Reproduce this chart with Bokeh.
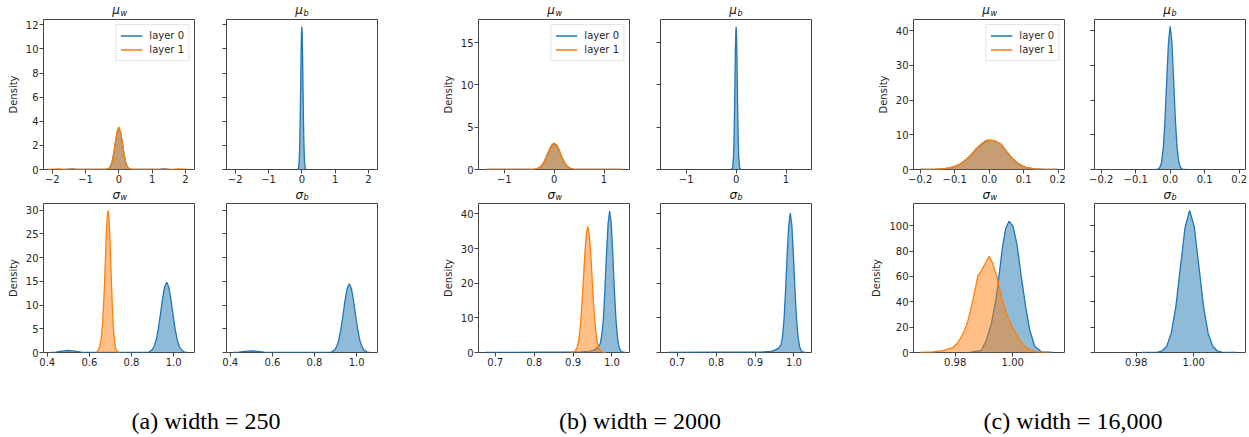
from bokeh.plotting import figure
from bokeh.models import (Range1d, FixedTicker, Legend, LegendItem,
                          CustomJSTickFormatter, ColumnDataSource)
from bokeh.layouts import row, column
from bokeh.core.properties import value
from bokeh.embed import file_html
from bokeh.resources import INLINE

BLUE = "#1f77b4"
ORANGE = "#ff7f0e"
FONT = "DejaVu Sans"

layer_labels = ["layer 0", "layer 1"]
top_titles = [("μ", "w"), ("μ", "b")] * 3
bottom_titles = [("σ", "w"), ("σ", "b")] * 3
captions = ["(a) width = 250", "(b) width = 2000", "(c) width = 16,000"]
density_label = "Density"

# ---------------- (a) width = 250 ----------------
a_top_xticks = [-2, -1, 0, 1, 2]
a_top_xlabels = ["−2", "−1", "0", "1", "2"]
a_top_yticks = [0, 2, 4, 6, 8, 10, 12]
a_top_ylabels = ["0", "2", "4", "6", "8", "10", "12"]
a_bot_xticks = [0.4, 0.6, 0.8, 1.0]
a_bot_xlabels = ["0.4", "0.6", "0.8", "1.0"]
a_bot_yticks = [0, 5, 10, 15, 20, 25, 30]
a_bot_ylabels = ["0", "5", "10", "15", "20", "25", "30"]

a_muw_l0_x = [-1.62, -1.5, -1.41, -1.3, -0.6, -0.4, -0.3, -0.25, -0.2, -0.15, -0.1, -0.05, 0.0,
              0.05, 0.1, 0.15, 0.2, 0.25, 0.3, 0.4, 0.6, 1.25, 1.35, 1.45, 1.58]
a_muw_l0_y = [0, 0.02, 0.05, 0.02, 0, 0.005, 0.08, 0.25, 0.65, 1.35, 2.28, 3.1, 3.45,
              3.1, 2.28, 1.35, 0.65, 0.25, 0.08, 0.005, 0, 0.02, 0.05, 0.02, 0]
a_muw_l1_x = [-2.12, -1.95, -1.82, -1.7, -1.0, -0.4, -0.3, -0.25, -0.2, -0.15, -0.1, -0.05, 0.0,
              0.05, 0.1, 0.15, 0.2, 0.25, 0.3, 0.4, 1.0, 1.68, 1.8, 1.93, 2.08]
a_muw_l1_y = [0, 0.03, 0.05, 0.02, 0, 0.005, 0.085, 0.26, 0.67, 1.38, 2.32, 3.16, 3.52,
              3.16, 2.32, 1.38, 0.67, 0.26, 0.085, 0.005, 0, 0.02, 0.05, 0.03, 0]
a_mub_l0_x = [-0.13, -0.12, -0.1, -0.08, -0.07, -0.06, -0.05, -0.04, -0.03, -0.02, -0.01, 0.0,
              0.01, 0.02, 0.03, 0.04, 0.05, 0.06, 0.07, 0.08, 0.1, 0.12, 0.13]
a_mub_l0_y = [0, 0.02, 0.15, 0.71, 1.37, 2.43, 3.93, 5.86, 7.97, 9.94, 11.34, 11.85,
              11.34, 9.94, 7.97, 5.86, 3.93, 2.43, 1.37, 0.71, 0.15, 0.02, 0]
a_sw_l0_x = [0.413, 0.44, 0.47, 0.50, 0.53, 0.56, 0.59, 0.85, 0.867, 0.882, 0.897, 0.907, 0.917,
             0.927, 0.937, 0.947, 0.957, 0.967, 0.977, 0.987, 0.997, 1.007, 1.017, 1.027, 1.037,
             1.052, 1.067]
a_sw_l0_y = [0, 0.08, 0.3, 0.42, 0.3, 0.08, 0, 0, 0.02, 0.1, 0.52, 1.26, 2.67,
             4.95, 8.0, 11.25, 13.8, 14.8, 13.8, 11.25, 8.0, 4.95, 2.67, 1.26, 0.52,
             0.1, 0]
a_sw_l1_x = [0.6335, 0.6445, 0.6525, 0.6585, 0.6635, 0.6685, 0.6725, 0.6765, 0.6805, 0.6845,
             0.6885, 0.6925, 0.6965, 0.7005, 0.7045, 0.7085, 0.7135, 0.7185, 0.7245, 0.7325, 0.7435]
a_sw_l1_y = [0, 0.7, 2.0, 3.8, 7.0, 11.2, 15.2, 20.2, 25.1, 28.6,
             29.9, 28.6, 25.1, 20.2, 14.8, 10.0, 5.4, 2.55, 0.86, 0.15, 0]
a_sb_l0_x = [0.413, 0.44, 0.47, 0.50, 0.53, 0.56, 0.59, 0.85, 0.865, 0.88, 0.895, 0.905, 0.915,
             0.925, 0.935, 0.945, 0.955, 0.965, 0.975, 0.985, 0.995, 1.005, 1.015, 1.025, 1.035,
             1.05, 1.065]
a_sb_l0_y = [0, 0.07, 0.25, 0.35, 0.25, 0.07, 0, 0, 0.02, 0.1, 0.5, 1.23, 2.6,
             4.85, 7.85, 11.0, 13.5, 14.5, 13.5, 11.0, 7.85, 4.85, 2.6, 1.23, 0.5,
             0.1, 0]

# ---------------- (b) width = 2000 ----------------
b_top_xticks = [-1, 0, 1]
b_top_xlabels = ["−1", "0", "1"]
b_top_yticks = [0, 5, 10, 15]
b_top_ylabels = ["0", "5", "10", "15"]
b_bot_xticks = [0.7, 0.8, 0.9, 1.0]
b_bot_xlabels = ["0.7", "0.8", "0.9", "1.0"]
b_bot_yticks = [0, 10, 20, 30, 40]
b_bot_ylabels = ["0", "10", "20", "30", "40"]

b_muw_x = [-1.35, -1.0, -0.6, -0.5, -0.4, -0.3, -0.25, -0.2, -0.15, -0.1, -0.05, 0.0,
           0.05, 0.1, 0.15, 0.2, 0.25, 0.3, 0.4, 0.5, 0.6, 1.0, 1.35]
b_muw_l0_y = [0, 0.003, 0, 0.001, 0.023, 0.196, 0.455, 0.90, 1.53, 2.25, 2.82, 3.05,
              2.82, 2.25, 1.53, 0.90, 0.455, 0.196, 0.023, 0.001, 0, 0.003, 0]
b_muw_l1_y = [0, 0.003, 0, 0.001, 0.024, 0.2, 0.47, 0.93, 1.58, 2.32, 2.91, 3.15,
              2.91, 2.32, 1.58, 0.93, 0.47, 0.2, 0.024, 0.001, 0, 0.003, 0]
b_mub_x = [-0.1, -0.08, -0.0675, -0.0525, -0.045, -0.0375, -0.03, -0.0225, -0.015, -0.0075, 0.0,
           0.0075, 0.015, 0.0225, 0.03, 0.0375, 0.045, 0.0525, 0.0675, 0.08, 0.1]
b_mub_y = [0, 0.07, 0.32, 1.54, 2.9, 4.98, 7.7, 10.9, 13.9, 16.1, 16.9,
           16.1, 13.9, 10.9, 7.7, 4.98, 2.9, 1.54, 0.32, 0.07, 0]
b_sw_l0_x = [0.674, 0.75, 0.82, 0.88, 0.92, 0.942, 0.952, 0.960, 0.966, 0.970, 0.974, 0.978,
             0.982, 0.986, 0.990, 0.994, 0.998, 1.002, 1.006, 1.010, 1.014, 1.018, 1.022,
             1.028, 1.034]
b_sw_l0_y = [0, 0.05, 0.1, 0.12, 0.2, 0.3, 0.6, 1.1, 1.8, 2.6, 5.2, 9.9,
             18.4, 28.6, 37.3, 40.8, 37.3, 28.6, 18.4, 9.9, 4.45, 1.68, 0.53,
             0.07, 0]
b_sw_l1_x = [0.8928, 0.8978, 0.9048, 0.9098, 0.9138, 0.9178, 0.9218, 0.9258, 0.9298, 0.9338,
             0.9378, 0.9418, 0.9458, 0.9498, 0.9538, 0.9578, 0.9618, 0.9658, 0.9708, 0.9778, 0.9848]
b_sw_l1_y = [0, 0.04, 0.34, 1.28, 3.1, 6.6, 12.2, 19.7, 27.7, 34.0,
             36.4, 34.0, 27.7, 19.7, 12.2, 6.6, 3.1, 1.28, 0.34, 0.04, 0]
b_sb_l0_x = [0.674, 0.80, 0.88, 0.92, 0.94, 0.950, 0.958, 0.9625, 0.9665, 0.9705, 0.9745, 0.9785,
             0.9825, 0.9865, 0.9905, 0.9945, 0.9985, 1.0025, 1.0065, 1.0105, 1.0145, 1.0185,
             1.0245, 1.0305]
b_sb_l0_y = [0, 0.08, 0.12, 0.2, 0.35, 0.6, 1.1, 1.6, 2.2, 4.4, 9.75, 18.1,
             28.2, 36.7, 40.2, 36.7, 28.2, 18.1, 9.75, 4.4, 1.65, 0.52,
             0.07, 0]

# ---------------- (c) width = 16,000 ----------------
c_top_xticks = [-0.2, -0.1, 0.0, 0.1, 0.2]
c_top_xlabels = ["−0.2", "−0.1", "0.0", "0.1", "0.2"]
c_top_yticks = [0, 10, 20, 30, 40]
c_top_ylabels = ["0", "10", "20", "30", "40"]
c_bot_xticks = [0.98, 1.00]
c_bot_xlabels = ["0.98", "1.00"]
c_bot_yticks = [0, 20, 40, 60, 80, 100]
c_bot_ylabels = ["0", "20", "40", "60", "80", "100"]

c_muw_x = [-0.2, -0.16, -0.133, -0.115, -0.1, -0.085, -0.07, -0.055, -0.04, -0.025, -0.01, 0.0,
           0.01, 0.02, 0.035, 0.05, 0.065, 0.08, 0.095, 0.11, 0.13, 0.16, 0.2]
c_muw_l0_y = [0, 0.06, 0.2, 0.45, 0.85, 1.5, 2.6, 3.9, 5.6, 7.0, 8.1, 8.3,
              8.3, 8.05, 7.2, 5.2, 3.4, 2.0, 1.05, 0.5, 0.15, 0.03, 0]
c_muw_l1_y = [0, 0.06, 0.21, 0.46, 0.87, 1.55, 2.65, 4.0, 5.75, 7.2, 8.35, 8.5,
              8.4, 8.1, 7.2, 5.2, 3.4, 2.0, 1.05, 0.5, 0.15, 0.03, 0]
c_mub_x = [-0.045, -0.035, -0.03, -0.025, -0.02, -0.015, -0.01, -0.005, 0.0,
           0.005, 0.01, 0.015, 0.02, 0.025, 0.03, 0.035, 0.045]
c_mub_y = [0, 0.13, 0.6, 2.1, 6.3, 14.3, 25.7, 36.6, 41.2,
           36.6, 25.7, 14.3, 6.3, 2.1, 0.6, 0.13, 0]
c_sw_l0_x = [0.98504, 0.98910, 0.99085, 0.99259, 0.99409, 0.99524, 0.99640, 0.99757, 0.99872,
             1.00011, 1.00150, 1.00302, 1.00452, 1.00591, 1.00765, 1.00998, 1.01402]
c_sw_l0_y = [0, 1.6, 9.9, 22.9, 41, 60.5, 82.6, 98, 103.5,
             99.5, 85, 59, 35.8, 17.7, 4.7, 0.5, 0]
c_sw_l1_x = [0.9677, 0.9720, 0.9758, 0.9792, 0.9808, 0.9822, 0.9835, 0.9845, 0.9862, 0.9879,
             0.9891, 0.9906, 0.9918, 0.9929, 0.9946, 0.9961, 0.9978, 1.0001, 1.0024, 1.0048,
             1.0077, 1.0129]
c_sw_l1_y = [0, 0.4, 1.5, 3.9, 7.5, 12.5, 19, 25.5, 42, 60.5,
             64.4, 71, 75.8, 71, 59, 43.6, 30.6, 19, 9.9, 3.4,
             0.5, 0]
c_sb_l0_x = [0.982, 0.9874, 0.989, 0.9906, 0.9922, 0.9938, 0.9954, 0.997, 0.9986,
             1.0002, 1.0018, 1.0034, 1.005, 1.0066, 1.0082, 1.0098, 1.0115, 1.015]
c_sb_l0_y = [0, 0.25, 1.24, 4.9, 15.2, 36.4, 67.9, 98.8, 112,
             98.8, 67.9, 36.4, 15.2, 4.9, 1.24, 0.25, 0.03, 0]

# axis limits
a_top_xr, a_top_yr = (-2.26, 2.27), (0, 12.44)
a_bot_xr, a_bot_yr = (0.382, 1.099), (0, 31.4)
b_top_xr, b_top_yr = (-1.515, 1.51), (0, 17.75)
b_bot_xr, b_bot_yr = (0.657, 1.045), (0, 43.0)
c_top_xr, c_top_yr = (-0.2195, 0.2184), (0, 43.2)
c_bot_xr, c_bot_yr = (0.9655, 1.018), (0, 117.5)

# ---------------- layout constants (page has no margin) ----------------
FRAME_W = 151
TOP_FRAME_H, BOT_FRAME_H = 150, 149
BOT_B = 17
LEFTS = [43, 31, 100, 30, 101, 29]
RIGHTS = [1, 1, 1, 1, 1, 3]
TOTAL_W = sum(LEFTS) + sum(RIGHTS) + 6 * FRAME_W
STRIP1_H, STRIP2_H = 18, 16
CAP_H = 67

frame_centers = []
_cum = 0
for _l, _r in zip(LEFTS, RIGHTS):
    frame_centers.append(_cum + _l + FRAME_W / 2.0)
    _cum += _l + FRAME_W + _r
CAPTION_X = [frame_centers[0] + 87, frame_centers[2] + 86, frame_centers[4] + 84]


def build(idx, frame_h, xr, yr, xticks, xlabels, yticks, ylabels, curves, legend):
    first = idx % 2 == 0
    p = figure(frame_width=FRAME_W, frame_height=frame_h,
               x_range=Range1d(*xr), y_range=Range1d(*yr),
               output_backend="svg", toolbar_location=None, tools="",
               min_border_left=LEFTS[idx], min_border_right=RIGHTS[idx],
               min_border_top=1, min_border_bottom=BOT_B)
    p.grid.visible = False
    p.outline_line_color = "#444444"
    p.outline_line_width = 1
    for ax in (p.xaxis[0], p.yaxis[0]):
        ax.axis_line_color = None
        ax.major_tick_in = 0
        ax.major_tick_out = 4
        ax.major_tick_line_color = "#444444"
        ax.minor_tick_line_color = None
        ax.major_label_text_font = FONT
        ax.major_label_text_font_size = "10px"
        ax.major_label_text_color = "#262626"
        ax.major_label_standoff = 1
    p.xaxis.ticker = FixedTicker(ticks=xticks)
    p.xaxis.major_label_overrides = dict(zip(xticks, xlabels))
    p.yaxis.ticker = FixedTicker(ticks=yticks)
    if first:
        p.yaxis.major_label_overrides = dict(zip(yticks, ylabels))
        p.yaxis.axis_label = density_label
        p.yaxis.axis_label_text_font = FONT
        p.yaxis.axis_label_text_font_size = "10px"
        p.yaxis.axis_label_text_font_style = "normal"
        p.yaxis.axis_label_text_color = "#262626"
        p.yaxis.axis_label_standoff = 4
    else:
        p.yaxis.formatter = CustomJSTickFormatter(code="return ''")

    rends = []
    for xs, ys, col in curves:
        src = ColumnDataSource(dict(x=xs, y=ys))
        p.varea(x="x", y1=0, y2="y", source=src, fill_color=col, fill_alpha=0.5)
        r = p.line("x", "y", source=src, line_color=col, line_width=1.3)
        rends.append(r)

    if legend:
        lg = Legend(items=[LegendItem(label=layer_labels[0], renderers=[rends[0]]),
                           LegendItem(label=layer_labels[1], renderers=[rends[1]])],
                    location="top_right", margin=5, padding=4, spacing=1,
                    glyph_width=22, glyph_height=13, label_height=13, label_standoff=7,
                    label_text_font=FONT, label_text_font_size="10px",
                    label_text_color="#262626",
                    border_line_color="#cccccc", border_line_width=1,
                    background_fill_alpha=0.8)
        p.add_layout(lg)
    return p


def plain(width, height):
    s = figure(width=width, height=height, x_range=Range1d(0, width),
               y_range=Range1d(0, height), output_backend="svg", toolbar_location=None,
               tools="", x_axis_location=None, y_axis_location=None, title_location=None,
               min_border_left=0, min_border_right=0, min_border_top=0, min_border_bottom=0)
    s.grid.visible = False
    s.outline_line_color = None
    return s


def strip(height, titles, mid_main, mid_sub):
    s = plain(TOTAL_W, height)
    n = len(titles)
    s.text(x=[c + 1 for c in frame_centers], y=[mid_main] * n, text=[t[0] for t in titles],
           text_align="right", text_baseline="middle", text_font=value(FONT),
           text_font_style="italic", text_font_size="12px", text_color="#111111")
    s.text(x=[c + 1.5 for c in frame_centers], y=[mid_sub] * n, text=[t[1] for t in titles],
           text_align="left", text_baseline="middle", text_font=value(FONT),
           text_font_style="italic", text_font_size="8px", text_color="#111111")
    return s


top = [
    build(0, TOP_FRAME_H, a_top_xr, a_top_yr, a_top_xticks, a_top_xlabels, a_top_yticks, a_top_ylabels,
          [(a_muw_l0_x, a_muw_l0_y, BLUE), (a_muw_l1_x, a_muw_l1_y, ORANGE)], True),
    build(1, TOP_FRAME_H, a_top_xr, a_top_yr, a_top_xticks, a_top_xlabels, a_top_yticks, a_top_ylabels,
          [(a_mub_l0_x, a_mub_l0_y, BLUE)], False),
    build(2, TOP_FRAME_H, b_top_xr, b_top_yr, b_top_xticks, b_top_xlabels, b_top_yticks, b_top_ylabels,
          [(b_muw_x, b_muw_l0_y, BLUE), (b_muw_x, b_muw_l1_y, ORANGE)], True),
    build(3, TOP_FRAME_H, b_top_xr, b_top_yr, b_top_xticks, b_top_xlabels, b_top_yticks, b_top_ylabels,
          [(b_mub_x, b_mub_y, BLUE)], False),
    build(4, TOP_FRAME_H, c_top_xr, c_top_yr, c_top_xticks, c_top_xlabels, c_top_yticks, c_top_ylabels,
          [(c_muw_x, c_muw_l0_y, BLUE), (c_muw_x, c_muw_l1_y, ORANGE)], True),
    build(5, TOP_FRAME_H, c_top_xr, c_top_yr, c_top_xticks, c_top_xlabels, c_top_yticks, c_top_ylabels,
          [(c_mub_x, c_mub_y, BLUE)], False),
]
bottom = [
    build(0, BOT_FRAME_H, a_bot_xr, a_bot_yr, a_bot_xticks, a_bot_xlabels, a_bot_yticks, a_bot_ylabels,
          [(a_sw_l0_x, a_sw_l0_y, BLUE), (a_sw_l1_x, a_sw_l1_y, ORANGE)], False),
    build(1, BOT_FRAME_H, a_bot_xr, a_bot_yr, a_bot_xticks, a_bot_xlabels, a_bot_yticks, a_bot_ylabels,
          [(a_sb_l0_x, a_sb_l0_y, BLUE)], False),
    build(2, BOT_FRAME_H, b_bot_xr, b_bot_yr, b_bot_xticks, b_bot_xlabels, b_bot_yticks, b_bot_ylabels,
          [(b_sw_l0_x, b_sw_l0_y, BLUE), (b_sw_l1_x, b_sw_l1_y, ORANGE)], False),
    build(3, BOT_FRAME_H, b_bot_xr, b_bot_yr, b_bot_xticks, b_bot_xlabels, b_bot_yticks, b_bot_ylabels,
          [(b_sb_l0_x, b_sb_l0_y, BLUE)], False),
    build(4, BOT_FRAME_H, c_bot_xr, c_bot_yr, c_bot_xticks, c_bot_xlabels, c_bot_yticks, c_bot_ylabels,
          [(c_sw_l0_x, c_sw_l0_y, BLUE), (c_sw_l1_x, c_sw_l1_y, ORANGE)], False),
    build(5, BOT_FRAME_H, c_bot_xr, c_bot_yr, c_bot_xticks, c_bot_xlabels, c_bot_yticks, c_bot_ylabels,
          [(c_sb_l0_x, c_sb_l0_y, BLUE)], False),
]

strip_top = strip(STRIP1_H, top_titles, 8.2, 5.4)
strip_bot = strip(STRIP2_H, bottom_titles, 8.0, 4.9)

cap = plain(TOTAL_W, CAP_H)
cap.text(x=CAPTION_X, y=[16, 16, 16], text=captions, text_align="center",
         text_baseline="middle", text_font=value("Liberation Serif"),
         text_font_size="24px", text_color="black")

layout = column(strip_top, row(*top), strip_bot, row(*bottom), cap)
open("out.html", "w").write(file_html(layout, INLINE))
